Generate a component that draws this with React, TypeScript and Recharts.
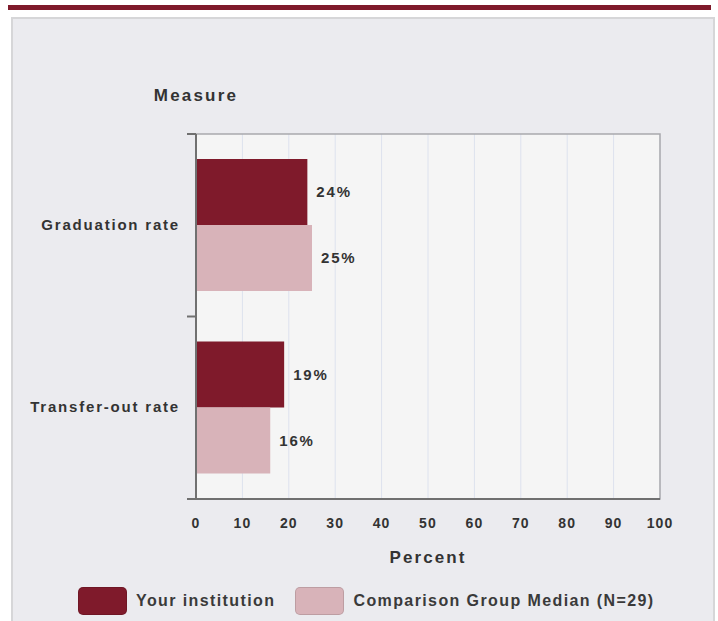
import {
  BarChart,
  Bar,
  XAxis,
  YAxis,
  CartesianGrid,
  LabelList,
  ReferenceArea,
} from 'recharts';

const categories = ['Graduation rate', 'Transfer-out rate'];
const yourInstitution = [24, 19];
const comparisonMedian = [25, 16];
const percentTicks = [0, 10, 20, 30, 40, 50, 60, 70, 80, 90, 100];

const seriesNames = ['Your institution', 'Comparison Group Median (N=29)'];
const MAROON = '#7f1a2b';
const PINK = '#d8b3b9';
const TEXT = '#333333';
const AXIS = '#707070';
const FONT = '"Liberation Sans", Arial, sans-serif';

const data = categories.map((name, i) => ({
  name,
  yours: yourInstitution[i],
  comparison: comparisonMedian[i],
}));

// y tick: label plus short tick marks on the band edges (not the band centre)
const CategoryTick = (props: any) => {
  const { x, y, payload, index, visibleTicksCount } = props;
  const half = payload.offset || 0;
  const axisX = x + 16;
  return (
    <g>
      <line x1={axisX - 9} x2={axisX} y1={y - half} y2={y - half} stroke={AXIS} strokeWidth={2} />
      {index === visibleTicksCount - 1 && (
        <line x1={axisX - 9} x2={axisX} y1={y + half} y2={y + half} stroke={AXIS} strokeWidth={2} />
      )}
      <text
        x={x}
        y={y}
        dy="0.3em"
        textAnchor="end"
        fill={TEXT}
        fontSize={15}
        fontWeight="bold"
        fontFamily={FONT}
        letterSpacing={1.8}
      >
        {payload.value}
      </text>
    </g>
  );
};

const MeasureLabel = (props: any) => {
  const vb = props.viewBox || {};
  return (
    <text
      x={vb.x + vb.width}
      y={vb.y - 33}
      textAnchor="middle"
      fill={TEXT}
      fontSize={17}
      fontWeight="bold"
      fontFamily={FONT}
      letterSpacing={2.2}
    >
      Measure
    </text>
  );
};

const LegendItem = ({ color, label }: { color: string; label: string }) => (
  <div style={{ display: 'flex', alignItems: 'center', marginRight: 20 }}>
    <div
      style={{
        width: 47,
        height: 26,
        background: color,
        borderRadius: 5,
        border: '1px solid rgba(0,0,0,0.12)',
        marginRight: 9,
      }}
    />
    <span
      style={{
        fontFamily: FONT,
        fontSize: 16,
        fontWeight: 'bold',
        color: '#3a3a3a',
        letterSpacing: 1.4,
      }}
    >
      {label}
    </span>
  </div>
);

const valueLabelStyle = {
  fill: TEXT,
  fontSize: 15,
  fontWeight: 'bold',
  fontFamily: FONT,
  letterSpacing: 1.8,
};

export default function App() {
  return (
    <div
      style={{
        position: 'absolute',
        left: 0,
        top: 0,
        width: 718,
        height: 621,
        overflow: 'hidden',
        background: '#ffffff',
      }}
    >
      <div style={{ position: 'absolute', left: 8, top: 5, width: 703, height: 5, background: MAROON }} />
      <div
        style={{
          position: 'absolute',
          left: 11,
          top: 17,
          width: 700,
          height: 640,
          background: '#ebebef',
          border: '2px solid #d6d6d8',
        }}
      />
      <div style={{ position: 'absolute', left: 0, top: 0 }}>
        <BarChart
          width={718}
          height={621}
          data={data}
          layout="vertical"
          margin={{ top: 134, right: 58, bottom: 48, left: 0 }}
          barGap={0}
          barSize={66}
        >
          <CartesianGrid horizontal={false} stroke="#dde2ee" fill="#f5f5f5" />
          <ReferenceArea x1={0} x2={100} fill="none" stroke="#a9a9ad" strokeWidth={1.5} />
          <XAxis
            type="number"
            domain={[0, 100]}
            ticks={percentTicks}
            axisLine={{ stroke: AXIS, strokeWidth: 2 }}
            tickLine={false}
            tickSize={6}
            tickMargin={13}
            height={74}
            tick={{ fill: TEXT, fontSize: 14, fontWeight: 'bold', fontFamily: FONT, letterSpacing: 1.1 }}
            label={{
              value: 'Percent',
              position: 'insideBottom',
              offset: 10,
              fill: TEXT,
              fontSize: 17,
              fontWeight: 'bold',
              fontFamily: FONT,
              letterSpacing: 2.1,
            }}
          />
          <YAxis
            type="category"
            dataKey="name"
            width={196}
            axisLine={{ stroke: AXIS, strokeWidth: 2 }}
            tickLine={false}
            tickSize={8}
            tickMargin={8}
            tick={<CategoryTick />}
            label={{ content: MeasureLabel }}
          />
          <Bar dataKey="yours" name={seriesNames[0]} fill={MAROON} isAnimationActive={false}>
            <LabelList
              dataKey="yours"
              position="right"
              offset={9}
              formatter={(v: any) => `${v}%`}
              {...valueLabelStyle}
            />
          </Bar>
          <Bar dataKey="comparison" name={seriesNames[1]} fill={PINK} isAnimationActive={false}>
            <LabelList
              dataKey="comparison"
              position="right"
              offset={9}
              formatter={(v: any) => `${v}%`}
              {...valueLabelStyle}
            />
          </Bar>
        </BarChart>
      </div>
      <div
        style={{
          position: 'absolute',
          left: 78,
          top: 587,
          display: 'flex',
          alignItems: 'center',
        }}
      >
        <LegendItem color={MAROON} label={seriesNames[0]} />
        <LegendItem color={PINK} label={seriesNames[1]} />
      </div>
    </div>
  );
}
